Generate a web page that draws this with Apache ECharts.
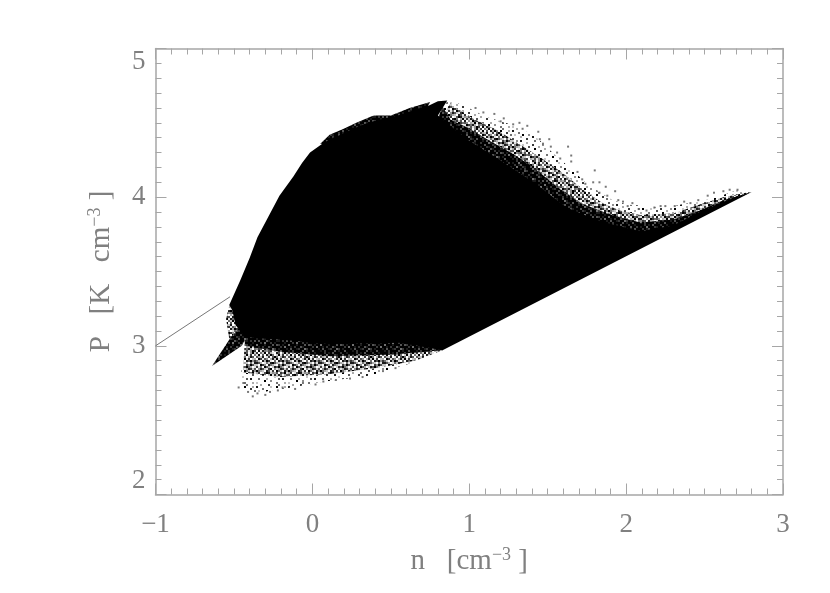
<!DOCTYPE html>
<html>
<head>
<meta charset="utf-8">
<title>P vs n</title>
<style>
    html, body { margin: 0; padding: 0; background: #fff; }
    #chart { width: 830px; height: 593px; }
</style>
<script src="https://cdn.jsdelivr.net/npm/echarts@6.0.0/dist/echarts.min.js"></script>
</head>
<body>
<div id="chart"></div>
<script>
// all outlines are [log n, log P]
const xTicks = [-1, 0, 1, 2, 3];
const yTicks = [2, 3, 4, 5];

// the isothermal tail on the left
const tailLine = [[-1, 3], [-0.525, 3.33]];

// fully saturated part of the cloud
const coreEdge = [
    [-0.53, 3.275], [-0.46, 3.44], [-0.40, 3.59], [-0.35, 3.73], [-0.29, 3.85], [-0.21, 4.01],
    [-0.12, 4.14], [-0.066, 4.23], [-0.015, 4.30], [0.05, 4.35], [0.11, 4.39], [0.18, 4.42],
    [0.26, 4.46], [0.33, 4.49], [0.39, 4.51], [0.47, 4.53], [0.58, 4.56], [0.66, 4.59],
    [0.73, 4.61], [0.80, 4.645], [0.86, 4.65], [0.80, 4.55], [0.985, 4.39], [1.195, 4.25],
    [1.41, 4.10], [1.62, 3.93], [1.83, 3.84], [1.90, 3.82], [2.09, 3.77], [2.30, 3.81],
    [2.47, 3.90], [2.62, 3.97], [2.80, 4.035], [0.83, 2.97], [0.56, 3.02], [0.11, 3.01],
    [-0.08, 3.03], [-0.43, 3.06], [-0.49, 3.14], [-0.51, 3.24]
];

// the little spike under the tail
const wedgeEdge = [[-0.64, 2.865], [-0.525, 3.05], [-0.47, 3.12], [-0.41, 3.08], [-0.45, 3.0]];
const wedgeHaze = [[-0.53, 3.27], [-0.55, 3.18], [-0.53, 3.05], [-0.45, 3.05], [-0.47, 3.25]];

// ragged rim along the top of the core
const topRim = [
    [0.05, 4.36], [0.11, 4.42], [0.20, 4.46], [0.28, 4.50], [0.39, 4.55], [0.50, 4.55],
    [0.62, 4.60], [0.75, 4.64], [0.60, 4.30], [0.20, 4.30]
];

// mottled bands, densest next to the core
const upperDense = [
    [0.83, 4.61], [0.88, 4.52], [0.985, 4.47], [1.13, 4.38], [1.28, 4.29], [1.41, 4.20],
    [1.56, 4.07], [1.71, 3.96], [1.83, 3.91], [1.94, 3.87], [2.09, 3.83], [2.30, 3.85],
    [2.47, 3.91], [2.62, 3.98], [2.80, 4.035], [2.55, 3.92], [1.9, 3.6], [1.0, 3.6], [0.75, 4.4]
];
const upperMid = [
    [0.88, 4.63], [1.02, 4.53], [1.18, 4.45], [1.30, 4.37], [1.45, 4.27], [1.60, 4.16],
    [1.75, 4.03], [1.85, 3.96], [1.96, 3.91], [2.09, 3.88], [2.30, 3.89], [2.47, 3.95],
    [2.62, 4.0], [2.79, 4.035], [2.55, 3.92], [1.9, 3.6], [1.0, 3.6], [0.75, 4.4]
];
const upperSparse = [
    [0.86, 4.65], [0.96, 4.62], [1.11, 4.54], [1.26, 4.49], [1.41, 4.42], [1.53, 4.30],
    [1.66, 4.18], [1.77, 4.07], [1.81, 4.05], [1.90, 3.99], [2.00, 3.95], [2.23, 3.93],
    [2.41, 3.96], [2.58, 4.0], [2.71, 4.05], [2.79, 4.035], [2.55, 3.92], [1.9, 3.6], [1.0, 3.6], [0.75, 4.4]
];
const lowerDense = [
    [-0.43, 3.1], [-0.43, 3.0], [-0.2, 2.96], [0.11, 2.93], [0.5, 2.94], [0.83, 2.97], [0.6, 3.2]
];
const lowerMid = [
    [-0.43, 3.1], [-0.44, 2.82], [-0.2, 2.79], [0.11, 2.81], [0.4, 2.85], [0.65, 2.9],
    [0.83, 2.97], [0.6, 3.2]
];
const lowerSparse = [
    [-0.43, 3.1], [-0.43, 2.97], [-0.45, 2.85], [-0.46, 2.74], [-0.42, 2.69], [-0.34, 2.68],
    [-0.27, 2.70], [-0.13, 2.72], [0.08, 2.76], [0.37, 2.80], [0.62, 2.88], [0.83, 2.97], [0.6, 3.2]
];

// stray points beyond the bands
const strayPoints = [
    [1.16, 4.56], [1.22, 4.53], [1.28, 4.49], [1.32, 4.50], [1.37, 4.48], [1.44, 4.44],
    [1.45, 4.39], [1.51, 4.39], [1.63, 4.34], [1.56, 4.30], [1.65, 4.28], [1.65, 4.24],
    [1.80, 4.18], [1.72, 4.12], [1.79, 4.10], [1.83, 4.03], [1.83, 4.10], [1.87, 4.07],
    [1.93, 4.04], [1.98, 3.97], [2.04, 3.96], [2.08, 3.92], [2.13, 3.91], [2.22, 3.94],
    [2.25, 3.94], [2.41, 3.96], [2.46, 3.98], [2.66, 4.05], [2.71, 4.05],
    [1.04, 4.60], [1.09, 4.57], [1.20, 4.51], [1.34, 4.46], [1.47, 4.36], [1.52, 4.34],
    [1.58, 4.26], [1.69, 4.17], [1.74, 4.09], [1.88, 4.01], [1.95, 3.98], [2.01, 3.94],
    [2.18, 3.93], [2.31, 3.94], [2.37, 3.97], [2.52, 4.01], [2.56, 4.03], [2.62, 4.04],
    [-0.41, 2.69], [-0.35, 2.68], [-0.27, 2.69], [-0.19, 2.72], [-0.06, 2.75], [0.07, 2.76],
    [-0.44, 2.75], [-0.47, 2.72], [-0.38, 2.66], [-0.30, 2.67], [-0.22, 2.70], [-0.11, 2.71],
    [0.02, 2.74], [0.15, 2.77], [0.24, 2.78], [0.32, 2.79], [0.45, 2.83], [0.53, 2.85]
];

// grey levels for the stipple tiles, 0 white .. 9 black
const denseTile = [
    '9979896999799899', '8995999789969979', '9798699997989699', '9959978996999798',
    '6999897999589999', '9789996799978969', '9896979998699799', '7999589979997899',
    '9969997898999689', '8997899699579999', '9699968999889796', '9979599798999989',
    '5999899969679899', '9897996899997959', '9699879957989998', '8979999698996999'
];
const midTile = [
    '7052907310860492', '1906083950291705', '6328017069503860', '0971640382917023',
    '5208397105086947', '8630152896320518', '2097408531074962', '7150963028695301',
    '0486217904138726', '9532086170952084', '3701698243607591', '6089503917285036',
    '1945726080419672', '8203197564032918', '4760832019758305', '0918546703261497'
];
const sparseTile = [
    '0030007000050000', '8000000200900030', '0005000000000700', '0200090040000005',
    '0000300000800000', '6000000700002000', '0040800000050090', '0000000300000000',
    '0900020000700004', '0000000060000300', '3000500000090000', '0007000800000060',
    '0000000002000000', '0500030000060800', '0000900400000000', '2000000000500030'
];

function makeTile(rows, cell) {
    const canvas = document.createElement('canvas');
    canvas.width = rows[0].length * cell;
    canvas.height = rows.length * cell;
    const ctx = canvas.getContext('2d');
    rows.forEach((row, j) => {
        for (let i = 0; i < row.length; i++) {
            const v = 255 - Math.round(Number(row[i]) * 255 / 9);
            ctx.fillStyle = `rgb(${v},${v},${v})`;
            ctx.fillRect(i * cell, j * cell, cell, cell);
        }
    });
    return { image: canvas, repeat: 'repeat' };
}

function polygonSeries(points, fill, z) {
    return {
        type: 'custom',
        coordinateSystem: 'cartesian2d',
        z: z,
        silent: true,
        data: [0],
        renderItem: (params, api) => ({
            type: 'polygon',
            shape: { points: points.map(p => api.coord(p)) },
            style: { fill: fill }
        })
    };
}

const axisColor = '#a6a6a6';
const labelColor = '#808080';
const labelFont = { fontFamily: 'Liberation Serif', fontSize: 27, color: labelColor };

function boxAxis(position, isFirst, ticks) {
    return {
        type: 'value',
        position: position,
        min: ticks[0],
        max: ticks[ticks.length - 1],
        interval: 1,
        splitLine: { show: false },
        axisLine: { show: true, onZero: false, lineStyle: { color: axisColor, width: 1.5 } },
        axisTick: { show: true, inside: true, length: 11, lineStyle: { color: axisColor, width: 1 } },
        minorTick: { show: true, splitNumber: 10, length: 6, lineStyle: { color: axisColor, width: 1 } },
        minorSplitLine: { show: false },
        axisLabel: { show: isFirst }
    };
}

const nameRich = {
    a: { fontFamily: 'Liberation Serif', fontSize: 29, color: labelColor },
    s: { fontFamily: 'Liberation Serif', fontSize: 18, color: labelColor, verticalAlign: 'top', lineHeight: 28 }
};

const xBottom = Object.assign(boxAxis('bottom', true, xTicks), {
    name: '{a|n   [cm}{s|−3}{a| ]}',
    nameLocation: 'middle',
    nameGap: 52,
    nameTextStyle: { rich: nameRich }
});
xBottom.axisLabel = Object.assign({}, labelFont, {
    show: true,
    margin: 17,
    formatter: v => (v < 0 ? '−' + Math.abs(v) : String(v))
});

const yLeft = Object.assign(boxAxis('left', true, yTicks), {
    name: '{a|P   [K   cm}{s|−3}{a| ]}',
    nameLocation: 'middle',
    nameGap: 40,
    nameRotate: 90,
    nameTextStyle: { rich: nameRich }
});
yLeft.axisLabel = Object.assign({}, labelFont, {
    show: true,
    margin: 10,
    verticalAlignMaxLabel: 'top',
    verticalAlignMinLabel: 'bottom'
});

const option = {
    animation: false,
    backgroundColor: '#fff',
    grid: { left: 155.5, top: 48.5, width: 627.5, height: 446, containLabel: false },
    xAxis: [xBottom, boxAxis('top', false, xTicks)],
    yAxis: [yLeft, boxAxis('right', false, yTicks)],
    series: [
        polygonSeries(upperSparse, makeTile(sparseTile, 2), 2),
        polygonSeries(lowerSparse, makeTile(sparseTile, 2), 2),
        polygonSeries(wedgeHaze, makeTile(midTile, 2), 2),
        polygonSeries(upperMid, makeTile(midTile, 2), 3),
        polygonSeries(lowerMid, makeTile(midTile, 2), 3),
        polygonSeries(upperDense, makeTile(denseTile, 2), 4),
        polygonSeries(lowerDense, makeTile(denseTile, 2), 4),
        polygonSeries(topRim, makeTile(denseTile, 2), 4),
        polygonSeries(wedgeEdge, makeTile(denseTile, 2), 4),
        polygonSeries(coreEdge, '#000', 5),
        {
            type: 'scatter',
            data: strayPoints,
            symbol: 'rect',
            symbolSize: 2,
            itemStyle: { color: '#555' },
            z: 6,
            silent: true
        },
        {
            type: 'line',
            data: tailLine,
            showSymbol: false,
            lineStyle: { color: '#777', width: 1 },
            z: 6,
            silent: true
        }
    ]
};

const chart = echarts.init(document.getElementById('chart'), null, { renderer: 'canvas' });
chart.setOption(option);
</script>
</body>
</html>
